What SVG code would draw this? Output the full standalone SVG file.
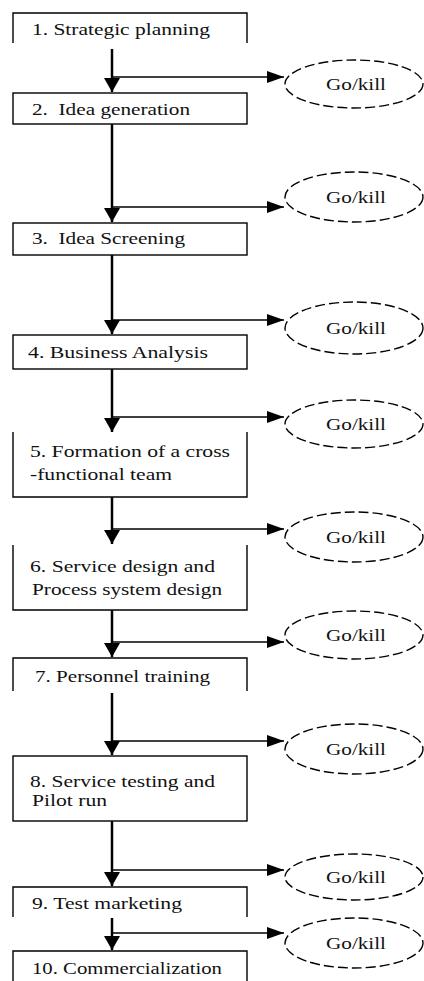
<svg xmlns="http://www.w3.org/2000/svg" width="424" height="981" viewBox="0 0 424 981">
<style>
.box{fill:none;stroke:#000;stroke-width:1.4}
.lbl{font-family:'Liberation Serif',serif;font-size:17px;fill:#111;white-space:pre}
.gk{font-family:'Liberation Serif',serif;font-size:17px;fill:#111;text-anchor:middle}
.oval{fill:none;stroke:#000;stroke-width:1.4;stroke-dasharray:10 4}
.v{stroke:#000;stroke-width:2.5;fill:none}
.h{stroke:#000;stroke-width:1.6;fill:none}
</style>
<defs>
<marker id="av" markerUnits="userSpaceOnUse" markerWidth="16" markerHeight="16" refX="14" refY="8" orient="auto">
<path d="M0,0 L14,8 L0,16 z" fill="#000"/>
</marker>
<marker id="ah" markerUnits="userSpaceOnUse" markerWidth="17" markerHeight="12" refX="17" refY="6" orient="auto">
<path d="M0,0 L17,6 L0,12 z" fill="#000"/>
</marker>
</defs>
<g id="connectors">
<path class="v" d="M112,49 V92" marker-end="url(#av)"/>
<path class="h" d="M112,77 H284" marker-end="url(#ah)"/>
<path class="v" d="M112,124 V222" marker-end="url(#av)"/>
<path class="h" d="M112,207 H284" marker-end="url(#ah)"/>
<path class="v" d="M112,255 V334" marker-end="url(#av)"/>
<path class="h" d="M112,320 H284" marker-end="url(#ah)"/>
<path class="v" d="M112,369 V432" marker-end="url(#av)"/>
<path class="h" d="M112,417 H284" marker-end="url(#ah)"/>
<path class="v" d="M112,497 V544" marker-end="url(#av)"/>
<path class="h" d="M112,529 H284" marker-end="url(#ah)"/>
<path class="v" d="M112,610 V657" marker-end="url(#av)"/>
<path class="h" d="M112,642 H284" marker-end="url(#ah)"/>
<path class="v" d="M112,693 V755" marker-end="url(#av)"/>
<path class="h" d="M112,741 H284" marker-end="url(#ah)"/>
<path class="v" d="M112,821 V886" marker-end="url(#av)"/>
<path class="h" d="M112,870 H284" marker-end="url(#ah)"/>
<path class="v" d="M112,918 V950" marker-end="url(#av)"/>
<path class="h" d="M112,933 H284" marker-end="url(#ah)"/>
</g>
<g id="step1"><path class="box" d="M13,43 V13 H247 V43"/><text class="lbl" x="32" y="35" textLength="178" lengthAdjust="spacingAndGlyphs">1. Strategic planning</text></g>
<g id="step2"><rect class="box" x="13" y="93" width="234" height="31"/><text class="lbl" x="32" y="115" textLength="158" lengthAdjust="spacingAndGlyphs">2.  Idea generation</text></g>
<g id="step3"><rect class="box" x="13" y="223" width="234" height="32"/><text class="lbl" x="32" y="244" textLength="153" lengthAdjust="spacingAndGlyphs">3.  Idea Screening</text></g>
<g id="step4"><rect class="box" x="13" y="335" width="234" height="34"/><text class="lbl" x="28" y="358" textLength="180" lengthAdjust="spacingAndGlyphs">4. Business Analysis</text></g>
<g id="step5"><path class="box" d="M13,432 V497 H247 V432"/><text class="lbl" x="30" y="457" textLength="200" lengthAdjust="spacingAndGlyphs">5. Formation of a cross</text><text class="lbl" x="30" y="480" textLength="142" lengthAdjust="spacingAndGlyphs">-functional team</text></g>
<g id="step6"><path class="box" d="M13,545 V610 H247 V545"/><text class="lbl" x="30" y="572" textLength="185" lengthAdjust="spacingAndGlyphs">6. Service design and</text><text class="lbl" x="32" y="595" textLength="190" lengthAdjust="spacingAndGlyphs">Process system design</text></g>
<g id="step7"><path class="box" d="M13,691 V658 H247 V691"/><text class="lbl" x="35" y="682" textLength="175" lengthAdjust="spacingAndGlyphs">7. Personnel training</text></g>
<g id="step8"><rect class="box" x="13" y="756" width="234" height="65"/><text class="lbl" x="30" y="787" textLength="185" lengthAdjust="spacingAndGlyphs">8. Service testing and</text><text class="lbl" x="32" y="806" textLength="75" lengthAdjust="spacingAndGlyphs">Pilot run</text></g>
<g id="step9"><path class="box" d="M13,917 V887 H247 V917"/><text class="lbl" x="32" y="909" textLength="150" lengthAdjust="spacingAndGlyphs">9. Test marketing</text></g>
<g id="step10"><path class="box" d="M13,981 V951 H247 V981"/><text class="lbl" x="32" y="974" textLength="190" lengthAdjust="spacingAndGlyphs">10. Commercialization</text></g>
<g id="gk1"><ellipse class="oval" cx="354" cy="84" rx="69" ry="24"/><text class="gk" x="356" y="90" textLength="60" lengthAdjust="spacingAndGlyphs">Go/kill</text></g>
<g id="gk2"><ellipse class="oval" cx="354" cy="197" rx="69" ry="25"/><text class="gk" x="356" y="203" textLength="60" lengthAdjust="spacingAndGlyphs">Go/kill</text></g>
<g id="gk3"><ellipse class="oval" cx="354" cy="328" rx="69" ry="26"/><text class="gk" x="356" y="334" textLength="60" lengthAdjust="spacingAndGlyphs">Go/kill</text></g>
<g id="gk4"><ellipse class="oval" cx="354" cy="424" rx="69" ry="24"/><text class="gk" x="356" y="430" textLength="60" lengthAdjust="spacingAndGlyphs">Go/kill</text></g>
<g id="gk5"><ellipse class="oval" cx="354" cy="537" rx="69" ry="25"/><text class="gk" x="356" y="543" textLength="60" lengthAdjust="spacingAndGlyphs">Go/kill</text></g>
<g id="gk6"><ellipse class="oval" cx="354" cy="635" rx="69" ry="24"/><text class="gk" x="356" y="641" textLength="60" lengthAdjust="spacingAndGlyphs">Go/kill</text></g>
<g id="gk7"><ellipse class="oval" cx="354" cy="749" rx="69" ry="25"/><text class="gk" x="356" y="755" textLength="60" lengthAdjust="spacingAndGlyphs">Go/kill</text></g>
<g id="gk8"><ellipse class="oval" cx="354" cy="877" rx="69" ry="23"/><text class="gk" x="356" y="883" textLength="60" lengthAdjust="spacingAndGlyphs">Go/kill</text></g>
<g id="gk9"><ellipse class="oval" cx="354" cy="943" rx="69" ry="25"/><text class="gk" x="356" y="949" textLength="60" lengthAdjust="spacingAndGlyphs">Go/kill</text></g>
</svg>
